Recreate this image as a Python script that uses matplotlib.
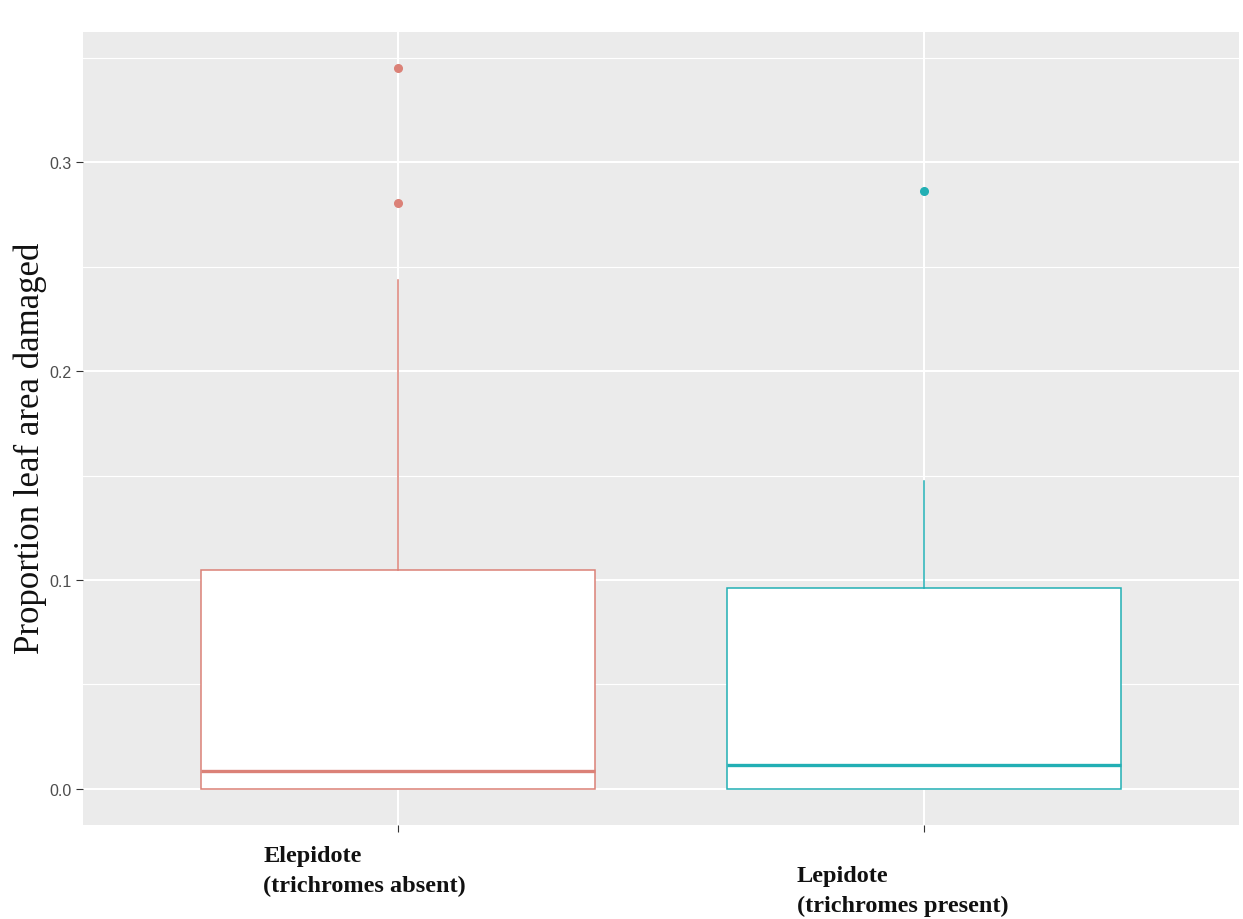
import numpy as np
import matplotlib.pyplot as plt
from matplotlib.transforms import blended_transform_factory

# Leaf damage summary per group (box statistics and outliers)
groups = ["Elepidote\n(trichromes absent)", "Lepidote\n(trichromes present)"]
q1 = [0.0, 0.0]
medians = [0.0086, 0.0115]
q3 = [0.1049, 0.0963]
whisk_lo = [0.0, 0.0]
whisk_hi = [0.2434, 0.1476]
outliers = [[0.2803, 0.345], [0.286]]
colors = ["#DB8177", "#22AFB4"]

fig = plt.figure(figsize=(12.43, 9.2), dpi=100)
ax = fig.add_axes([83 / 1243, 1 - 826 / 920, (1239 - 83) / 1243, (826 - 33) / 920])
ax.set_facecolor("#EBEBEB")

pos = np.arange(1, len(groups) + 1)
ax.set_xlim(0.4, 2.6)
ax.set_ylim(-0.01725, 0.36225)

# ggplot-like grid
for y in [0.05, 0.15, 0.25, 0.35]:
    ax.axhline(y, color="white", lw=0.8, zorder=0)
for y in [0.0, 0.1, 0.2, 0.3]:
    ax.axhline(y, color="white", lw=1.5, zorder=0)
for p in pos:
    ax.axvline(p, color="white", lw=1.5, zorder=0)

stats = []
for i in range(len(groups)):
    stats.append(dict(med=medians[i], q1=q1[i], q3=q3[i],
                      whislo=whisk_lo[i], whishi=whisk_hi[i], fliers=outliers[i]))

for i, st in enumerate(stats):
    c = colors[i]
    ax.bxp([st], positions=[pos[i]], widths=0.75, patch_artist=True, showcaps=False,
           boxprops=dict(facecolor="white", edgecolor=c, lw=1.1),
           medianprops=dict(color=c, lw=2.4),
           whiskerprops=dict(color=c, lw=1.1),
           flierprops=dict(marker="o", markerfacecolor=c, markeredgecolor=c,
                           markersize=5.5, linestyle="none"),
           zorder=2)

for s in ax.spines.values():
    s.set_visible(False)

ax.set_yticks([0.0, 0.1, 0.2, 0.3])
ax.set_yticklabels(["0.0", "0.1", "0.2", "0.3"], fontsize=11.5, color="#4D4D4D",
                   family="Liberation Sans")
ax.tick_params(axis="y", length=5, color="#333333", pad=3)
ax.set_xticks(pos)
ax.set_xticklabels([])
ax.tick_params(axis="x", length=5, color="#333333")

# group labels, left aligned under each box
tr = blended_transform_factory(ax.transData, ax.transAxes)
label_dx = [-135, -127]
label_dy = [-20, -40]
for i, g in enumerate(groups):
    ax.annotate(g, xy=(pos[i], 0), xycoords=tr, xytext=(label_dx[i], label_dy[i]),
                textcoords="offset pixels", ha="left", va="top", fontsize=17.5,
                fontweight="bold", family="Liberation Serif", linespacing=1.55,
                color="#111111")

fig.text(30 / 1243, 1 - 448 / 920, "Proportion leaf area damaged", rotation=90,
         ha="center", va="center", fontsize=25, family="Liberation Serif", color="#111111")

fig.savefig("out.png", dpi=100)
